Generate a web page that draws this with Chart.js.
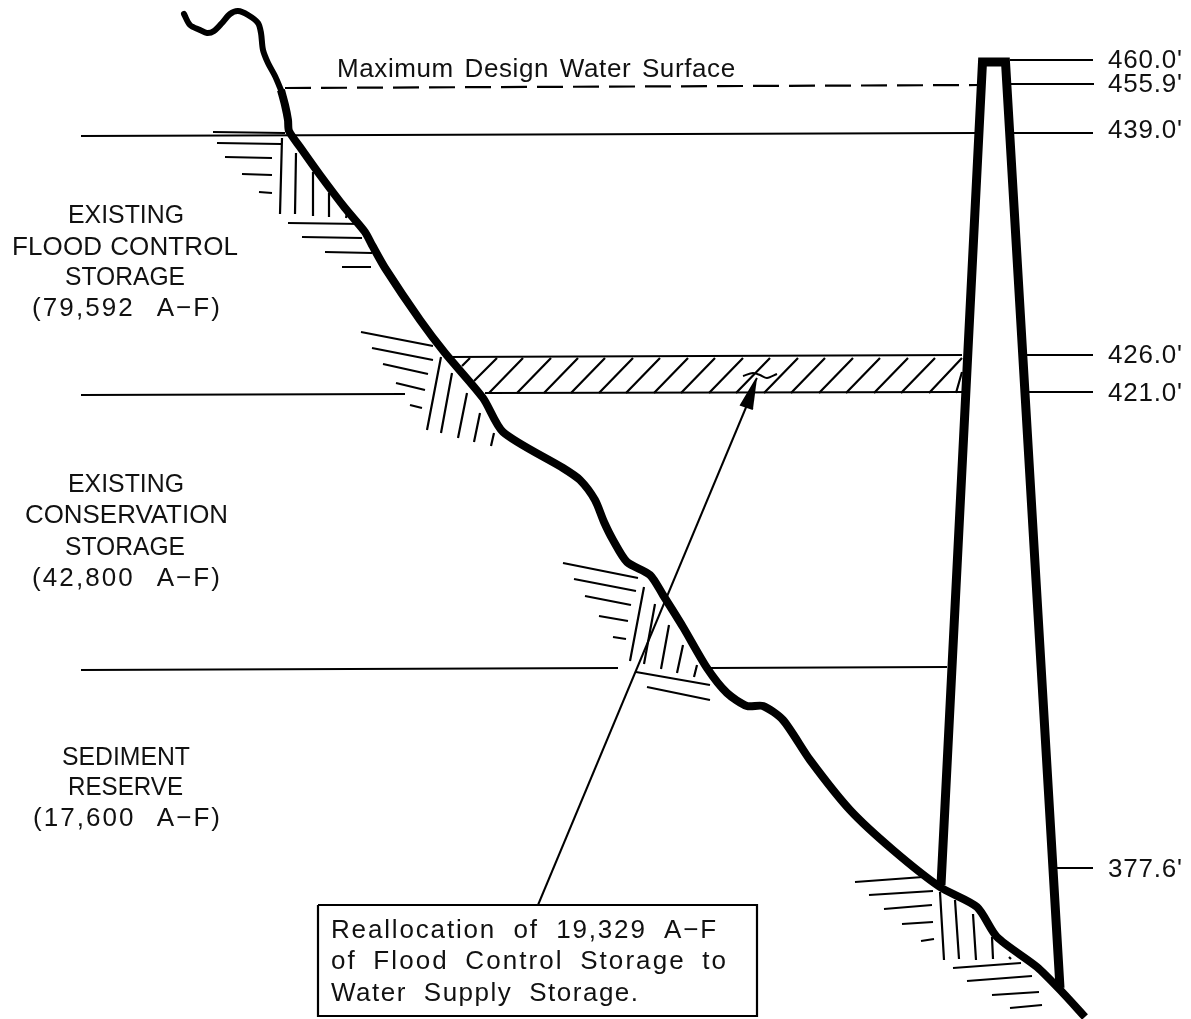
<!DOCTYPE html>
<html>
<head>
<meta charset="utf-8">
<title>Reservoir storage reallocation</title>
<script src="https://cdn.jsdelivr.net/npm/chart.js@4/dist/chart.umd.min.js"></script>
<style>
body { margin: 0; background: #fff; }
canvas { display: block; }
</style>
</head>
<body>
<canvas id="section" width="1191" height="1019"></canvas>
<script>
// section drawing, x/y are drawing units on the sheet
const bankTop = [[184,14],[190,25],[200,30],[207,33],[214,31],[222,23],[230,14],[238,11],[248,15],[258,23],[261,33],[263,50],[268,63],[275,76],[281,90]];
const bankLower = [[281,90],[285,105],[288,120],[289,131],[300,147],[320,175],[345,208],[365,232],[372,245],[385,268],[420,320],[445,353],[483,398],[503,432],[563,468],[580,480],[595,500],[604,522],[613,540],[627,562],[650,575],[663,595],[683,627],[707,668],[727,693],[747,706],[763,706],[783,720],[810,760],[850,810],[893,850],[940,887],[977,907],[997,937],[1037,967],[1063,993],[1085,1017]];
const damOutline = [[941,885],[982.5,62],[1005.5,62],[1060,988]];

const elevationLabels = ["460.0'", "455.9'", "439.0'", "426.0'", "421.0'", "377.6'"];

const dashedLevel = [[285,88,978,85]];
const levelLines = [
  [1010,60,1093,60],[1011,84,1094,84],
  [81,136,975,133],[1014,133,1093,133],
  [448,357,962,355],[1027,355,1093,355],
  [81,395,405,394],[485,393,962,392],[1027,392,1093,392],
  [81,670,618,668],[708,668,947,667],
  [1057,868,1093,868]
];
const bandHatch = [
  [470,358,462,366],[497,358,474,381],[523,358,489,393],[551,358,517,393],[578,358,544,393],[605,358,571,393],
  [633,358,599,393],[660,358,626,393],[688,358,654,393],[715,358,681,393],[743,358,709,393],[770,358,736,393],
  [798,358,764,393],[825,358,791,393],[853,358,819,393],[880,358,846,393],[908,358,874,393],[935,358,901,393],
  [962,358,929,393],[962,372,956,393]
];
const bankHatch = [
  [213,132,285,133],[217,143,281,144],[225,157,272,158],[242,174,272,175],[259,192,272,193],
  [282,138,280,214],[296,153,295,214],[313,172,313,216],[329,193,329,217],[347,213,346,218],
  [288,223,363,224],[302,237,362,238],[325,252,372,253],[342,267,371,267],
  [361,332,433,346],[372,348,433,360],[383,364,428,374],[396,383,425,390],[410,405,422,408],
  [441,357,427,430],[452,373,441,433],[467,393,458,438],[480,413,474,442],[494,433,491,446],
  [563,563,638,578],[574,579,636,591],[585,596,631,605],[599,616,628,621],[613,637,626,639],
  [644,587,630,661],[655,604,644,664],[669,625,661,669],[683,645,677,673],[697,665,694,677],
  [636,672,710,685],[647,687,710,700],
  [855,882,923,877],[869,895,933,891],[884,909,932,905],[902,924,933,922],[921,941,934,939],
  [940,892,944,960],[955,900,959,959],[973,914,976,960],[992,937,993,959],[1009,957,1011,959],
  [953,968,1021,963],[967,981,1032,976],[992,995,1039,992],[1010,1008,1042,1005]
];
const waterMark = [[743,376],[753,373],[760,375],[767,378],[777,374]];
const leader = [[538,905],[747,405]];
const arrowHead = [[757,378],[741,405],[753,409]];
const noteBox = [[318,905],[757,905],[757,1016],[318,1016],[318,905]];

const noteLines = ["Reallocation of 19,329 A\u2212F", "of Flood Control Storage to", "Water Supply Storage."];
const storageLabels = [
  "EXISTING", "FLOOD CONTROL", "STORAGE", "(79,592 A\u2212F)",
  "EXISTING", "CONSERVATION", "STORAGE", "(42,800 A\u2212F)",
  "SEDIMENT", "RESERVE", "(17,600 A\u2212F)"
];
const topLabel = "Maximum Design Water Surface";

// text placement: left edge, baseline, width it should fill
const storageAt = [
  [68,223,116],[12,255,226],[65,285,120],[32,316,188],
  [68,492,116],[25,523,203],[65,555,120],[32,586,188],
  [62,765,128],[68,795,115],[33,826,187]
];
const elevationAt = [[1108,68,74],[1108,92,74],[1108,138,74],[1108,363,74],[1108,401,74],[1108,877,74]];
const noteAt = [[331,938,385],[331,969,395],[331,1001,307]];
const topAt = [[337,77,398]];

function pts(list) {
  return list.map(p => ({x: p[0], y: p[1]}));
}

// one dataset per stroke style, gaps between pieces
function segs(list) {
  const out = [];
  list.forEach(s => {
    out.push({x: s[0], y: s[1]}, {x: s[2], y: s[3]}, {x: NaN, y: NaN});
  });
  return out;
}

function stroke(data, width, extra) {
  return Object.assign({
    data: data,
    showLine: true,
    pointRadius: 0,
    borderColor: '#000',
    borderWidth: width,
    tension: 0,
    borderCapStyle: 'butt',
    borderJoinStyle: 'miter'
  }, extra || {});
}

const sheetText = {
  id: 'sheetText',
  afterDatasetsDraw(chart) {
    const ctx = chart.ctx;
    const xs = chart.scales.x;
    const ys = chart.scales.y;
    const put = (texts, places) => {
      texts.forEach((t, i) => {
        const p = places[i];
        const px = xs.getPixelForValue(p[0]);
        const py = ys.getPixelForValue(p[1]);
        ctx.letterSpacing = '0px';
        ctx.wordSpacing = '0px';
        const extra = p[2] - ctx.measureText(t).width;
        if (extra <= 0) {
          // wider than the sheet lettering, squeeze the glyphs
          ctx.fillText(t, px, py, p[2]);
          return;
        }
        // the lettering has wide word gaps, part of the slack goes there
        const gaps = t.split(' ').length - 1;
        const toWords = gaps ? extra * 0.35 : 0;
        if (gaps) ctx.wordSpacing = (toWords / gaps).toFixed(2) + 'px';
        ctx.letterSpacing = ((extra - toWords) / (t.length - 1)).toFixed(2) + 'px';
        ctx.fillText(t, px, py);
      });
    };
    ctx.save();
    ctx.fillStyle = '#111';
    ctx.textAlign = 'left';
    ctx.textBaseline = 'alphabetic';
    ctx.font = '26px "Liberation Sans"';
    put(storageLabels, storageAt);
    put(elevationLabels, elevationAt);
    put(noteLines, noteAt);
    put([topLabel], topAt);
    ctx.restore();
  }
};

new Chart(document.getElementById('section'), {
  type: 'scatter',
  data: {
    datasets: [
      stroke(segs(bandHatch), 2.2),
      stroke(segs(bankHatch), 2.2),
      stroke(segs(levelLines), 2.2),
      stroke(segs(dashedLevel), 2.2, {borderDash: [26, 10]}),
      stroke(pts(bankTop), 6, {tension: 0.3, borderCapStyle: 'round', borderJoinStyle: 'round'}),
      stroke(pts(bankLower), 8, {tension: 0.25, borderJoinStyle: 'round'}),
      stroke(pts(damOutline), 9),
      stroke(pts(waterMark), 2, {tension: 0.3}),
      stroke(pts(leader), 2),
      stroke(pts(arrowHead), 2, {fill: 'shape', backgroundColor: '#000'}),
      stroke(pts(noteBox), 2.2)
    ]
  },
  options: {
    responsive: false,
    animation: false,
    layout: {padding: 0},
    plugins: {legend: {display: false}, tooltip: {enabled: false}},
    scales: {
      x: {type: 'linear', display: false, min: 0, max: 1191},
      y: {type: 'linear', display: false, min: 0, max: 1019, reverse: true}
    }
  },
  plugins: [sheetText]
});
</script>
</body>
</html>
